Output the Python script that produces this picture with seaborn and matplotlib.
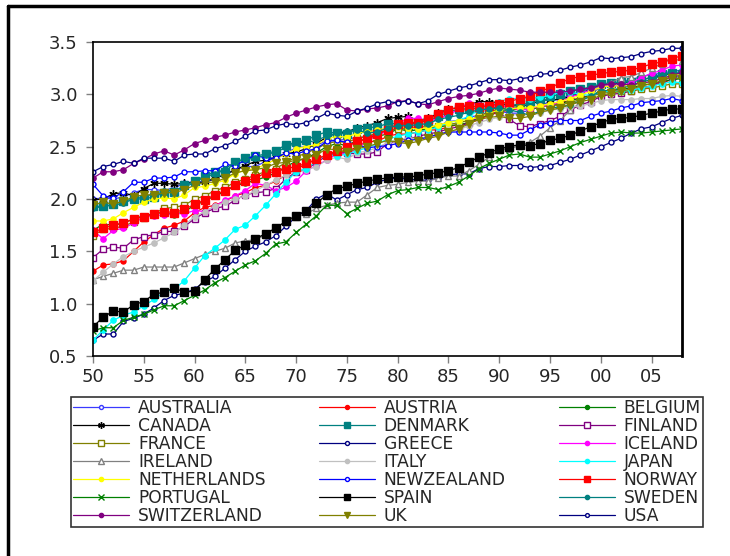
import numpy as np
import pandas as pd
import matplotlib
matplotlib.use("Agg")
import matplotlib.pyplot as plt
import seaborn as sns
from matplotlib.lines import Line2D

# Years covered by every series.
years = list(range(1950, 2009))

# Log GDP per capita values (one list per country).
australia = [2.00, 2.01, 2.00, 2.02, 2.06, 2.09, 2.09, 2.08, 2.11, 2.15,
             2.17, 2.16, 2.19, 2.24, 2.28, 2.31, 2.31, 2.36, 2.39, 2.44,
             2.49, 2.50, 2.51, 2.56, 2.56, 2.57, 2.59, 2.59, 2.62, 2.65,
             2.67, 2.69, 2.66, 2.66, 2.70, 2.74, 2.75, 2.78, 2.80, 2.83,
             2.84, 2.82, 2.82, 2.85, 2.89, 2.93, 2.96, 2.99, 3.03, 3.06,
             3.08, 3.09, 3.12, 3.14, 3.17, 3.19, 3.20, 3.22, 3.23]
austria = [1.31, 1.37, 1.38, 1.41, 1.50, 1.59, 1.66, 1.72, 1.75, 1.79,
           1.87, 1.92, 1.94, 1.98, 2.03, 2.06, 2.11, 2.13, 2.17, 2.23,
           2.29, 2.33, 2.38, 2.42, 2.45, 2.45, 2.50, 2.55, 2.55, 2.60,
           2.62, 2.62, 2.64, 2.66, 2.66, 2.69, 2.71, 2.72, 2.76, 2.80,
           2.83, 2.85, 2.86, 2.86, 2.88, 2.90, 2.92, 2.94, 2.97, 2.99,
           3.02, 3.03, 3.04, 3.04, 3.06, 3.08, 3.11, 3.14, 3.16]
belgium = [1.70, 1.76, 1.75, 1.77, 1.81, 1.84, 1.86, 1.87, 1.85, 1.88,
           1.94, 1.98, 2.03, 2.07, 2.13, 2.15, 2.18, 2.21, 2.25, 2.31,
           2.36, 2.39, 2.44, 2.50, 2.53, 2.51, 2.56, 2.57, 2.60, 2.62,
           2.67, 2.65, 2.66, 2.67, 2.69, 2.70, 2.71, 2.73, 2.77, 2.81,
           2.84, 2.86, 2.87, 2.85, 2.88, 2.90, 2.91, 2.94, 2.96, 2.99,
           3.03, 3.04, 3.05, 3.06, 3.09, 3.10, 3.12, 3.14, 3.15]
canada = [1.99, 2.00, 2.05, 2.06, 2.03, 2.10, 2.15, 2.15, 2.14, 2.15,
          2.16, 2.16, 2.20, 2.23, 2.28, 2.32, 2.36, 2.37, 2.40, 2.43,
          2.45, 2.48, 2.53, 2.59, 2.63, 2.64, 2.68, 2.70, 2.73, 2.77,
          2.78, 2.79, 2.75, 2.77, 2.82, 2.86, 2.87, 2.90, 2.93, 2.93,
          2.92, 2.89, 2.89, 2.90, 2.94, 2.95, 2.95, 2.98, 3.01, 3.05,
          3.09, 3.10, 3.11, 3.12, 3.14, 3.16, 3.18, 3.20, 3.20]
denmark = [1.93, 1.93, 1.95, 1.98, 2.00, 2.00, 2.02, 2.06, 2.07, 2.13,
           2.17, 2.22, 2.26, 2.26, 2.35, 2.39, 2.41, 2.43, 2.46, 2.52,
           2.54, 2.56, 2.61, 2.64, 2.63, 2.62, 2.67, 2.68, 2.69, 2.72,
           2.72, 2.71, 2.73, 2.75, 2.79, 2.83, 2.86, 2.86, 2.87, 2.87,
           2.88, 2.89, 2.91, 2.91, 2.96, 2.98, 3.00, 3.03, 3.05, 3.07,
           3.10, 3.11, 3.12, 3.12, 3.14, 3.16, 3.19, 3.20, 3.19]
finland = [1.44, 1.52, 1.54, 1.53, 1.61, 1.64, 1.66, 1.69, 1.69, 1.74,
           1.81, 1.87, 1.91, 1.93, 1.99, 2.04, 2.06, 2.07, 2.10, 2.19,
           2.26, 2.28, 2.35, 2.41, 2.44, 2.44, 2.43, 2.43, 2.45, 2.53,
           2.56, 2.57, 2.60, 2.62, 2.64, 2.67, 2.69, 2.73, 2.78, 2.83,
           2.82, 2.76, 2.70, 2.69, 2.72, 2.75, 2.79, 2.85, 2.90, 2.93,
           2.98, 3.00, 3.01, 3.03, 3.06, 3.08, 3.13, 3.17, 3.18]
france = [1.65, 1.71, 1.72, 1.74, 1.78, 1.82, 1.86, 1.91, 1.92, 1.94,
          2.00, 2.03, 2.08, 2.11, 2.16, 2.19, 2.23, 2.26, 2.29, 2.35,
          2.40, 2.44, 2.48, 2.53, 2.55, 2.54, 2.58, 2.60, 2.63, 2.66,
          2.67, 2.67, 2.69, 2.69, 2.70, 2.71, 2.73, 2.75, 2.79, 2.83,
          2.86, 2.87, 2.87, 2.86, 2.88, 2.89, 2.90, 2.92, 2.95, 2.98,
          3.01, 3.02, 3.03, 3.03, 3.05, 3.06, 3.08, 3.10, 3.10]
greece = [0.65, 0.71, 0.71, 0.83, 0.86, 0.90, 0.96, 1.03, 1.08, 1.10,
          1.14, 1.21, 1.26, 1.34, 1.42, 1.50, 1.55, 1.59, 1.65, 1.74,
          1.83, 1.89, 2.00, 2.05, 1.99, 2.04, 2.09, 2.11, 2.16, 2.19,
          2.20, 2.19, 2.18, 2.18, 2.20, 2.23, 2.24, 2.24, 2.29, 2.31,
          2.31, 2.32, 2.32, 2.30, 2.31, 2.32, 2.35, 2.38, 2.42, 2.46,
          2.50, 2.54, 2.58, 2.63, 2.67, 2.69, 2.73, 2.77, 2.80]
iceland = [1.70, 1.62, 1.70, 1.72, 1.77, 1.83, 1.84, 1.85, 1.86, 1.86,
           1.89, 1.88, 1.93, 1.99, 2.03, 2.08, 2.15, 2.13, 2.08, 2.11,
           2.17, 2.27, 2.32, 2.37, 2.43, 2.43, 2.48, 2.56, 2.61, 2.65,
           2.72, 2.77, 2.77, 2.74, 2.77, 2.80, 2.86, 2.92, 2.90, 2.89,
           2.89, 2.88, 2.85, 2.86, 2.89, 2.89, 2.93, 2.97, 3.01, 3.04,
           3.07, 3.09, 3.08, 3.11, 3.16, 3.20, 3.23, 3.27, 3.28]
ireland = [1.23, 1.26, 1.29, 1.32, 1.32, 1.35, 1.35, 1.35, 1.35, 1.39,
           1.43, 1.47, 1.50, 1.53, 1.58, 1.60, 1.61, 1.66, 1.73, 1.78,
           1.83, 1.86, 1.91, 1.94, 1.96, 1.97, 1.97, 2.04, 2.11, 2.13,
           2.14, 2.16, 2.17, 2.17, 2.20, 2.22, 2.22, 2.27, 2.33, 2.40,
           2.47, 2.48, 2.51, 2.54, 2.60, 2.68, 2.75, 2.85, 2.92, 3.00,
           3.07, 3.11, 3.16, 3.17, 3.21, 3.25, 3.29, 3.34, 3.32]
italy = [1.22, 1.30, 1.38, 1.45, 1.50, 1.54, 1.58, 1.63, 1.68, 1.75,
         1.83, 1.88, 1.93, 1.97, 2.00, 2.03, 2.08, 2.13, 2.18, 2.23,
         2.27, 2.28, 2.31, 2.37, 2.40, 2.38, 2.44, 2.46, 2.49, 2.54,
         2.57, 2.58, 2.58, 2.59, 2.62, 2.64, 2.66, 2.70, 2.73, 2.76,
         2.78, 2.80, 2.81, 2.80, 2.82, 2.85, 2.86, 2.88, 2.89, 2.91,
         2.94, 2.95, 2.95, 2.95, 2.96, 2.96, 2.98, 2.99, 2.98]
japan = [0.65, 0.75, 0.84, 0.89, 0.92, 0.98, 1.04, 1.11, 1.14, 1.22,
         1.34, 1.46, 1.53, 1.61, 1.71, 1.75, 1.84, 1.94, 2.05, 2.16,
         2.26, 2.29, 2.36, 2.43, 2.41, 2.43, 2.46, 2.49, 2.53, 2.57,
         2.60, 2.62, 2.64, 2.66, 2.69, 2.73, 2.75, 2.79, 2.85, 2.89,
         2.93, 2.96, 2.96, 2.96, 2.97, 2.99, 3.02, 3.02, 3.00, 2.99,
         3.02, 3.03, 3.03, 3.04, 3.06, 3.08, 3.10, 3.12, 3.11]
netherlands = [1.79, 1.79, 1.81, 1.87, 1.92, 1.97, 2.00, 2.01, 2.00, 2.04,
               2.11, 2.12, 2.15, 2.18, 2.24, 2.28, 2.29, 2.33, 2.38, 2.43,
               2.48, 2.50, 2.52, 2.57, 2.60, 2.59, 2.63, 2.64, 2.66, 2.68,
               2.69, 2.68, 2.67, 2.68, 2.71, 2.73, 2.75, 2.76, 2.78, 2.82,
               2.85, 2.86, 2.87, 2.87, 2.89, 2.91, 2.93, 2.96, 2.99, 3.03,
               3.07, 3.08, 3.08, 3.08, 3.10, 3.12, 3.15, 3.18, 3.20]
newzealand = [2.14, 2.03, 2.01, 2.07, 2.16, 2.16, 2.20, 2.20, 2.21, 2.26,
              2.26, 2.27, 2.27, 2.33, 2.32, 2.37, 2.42, 2.39, 2.39, 2.44,
              2.43, 2.46, 2.48, 2.55, 2.56, 2.54, 2.52, 2.49, 2.50, 2.51,
              2.53, 2.56, 2.57, 2.59, 2.62, 2.64, 2.64, 2.64, 2.64, 2.64,
              2.63, 2.61, 2.61, 2.66, 2.71, 2.73, 2.75, 2.75, 2.75, 2.79,
              2.82, 2.84, 2.87, 2.89, 2.92, 2.93, 2.94, 2.96, 2.94]
norway = [1.68, 1.72, 1.75, 1.77, 1.81, 1.83, 1.86, 1.88, 1.87, 1.90,
          1.95, 1.99, 2.04, 2.08, 2.13, 2.17, 2.20, 2.25, 2.26, 2.29,
          2.31, 2.34, 2.38, 2.42, 2.46, 2.50, 2.55, 2.57, 2.62, 2.66,
          2.72, 2.73, 2.73, 2.76, 2.81, 2.85, 2.88, 2.89, 2.88, 2.89,
          2.91, 2.93, 2.96, 2.98, 3.03, 3.06, 3.11, 3.15, 3.17, 3.18,
          3.20, 3.21, 3.22, 3.23, 3.26, 3.29, 3.31, 3.34, 3.37]
portugal = [0.74, 0.77, 0.77, 0.84, 0.87, 0.90, 0.94, 0.98, 0.98, 1.03,
            1.08, 1.13, 1.20, 1.25, 1.31, 1.37, 1.41, 1.48, 1.57, 1.59,
            1.68, 1.76, 1.84, 1.94, 1.94, 1.86, 1.91, 1.96, 1.98, 2.04,
            2.08, 2.09, 2.11, 2.11, 2.09, 2.12, 2.16, 2.22, 2.29, 2.34,
            2.38, 2.42, 2.43, 2.40, 2.40, 2.43, 2.46, 2.50, 2.54, 2.57,
            2.60, 2.63, 2.64, 2.63, 2.63, 2.64, 2.65, 2.66, 2.67]
spain = [0.78, 0.87, 0.93, 0.92, 0.99, 1.02, 1.09, 1.11, 1.15, 1.11,
         1.12, 1.23, 1.33, 1.42, 1.51, 1.56, 1.62, 1.67, 1.72, 1.79,
         1.84, 1.89, 1.96, 2.04, 2.10, 2.12, 2.15, 2.17, 2.19, 2.20,
         2.21, 2.21, 2.22, 2.24, 2.25, 2.27, 2.30, 2.35, 2.40, 2.44,
         2.48, 2.50, 2.52, 2.51, 2.53, 2.56, 2.58, 2.61, 2.65, 2.69,
         2.73, 2.76, 2.77, 2.78, 2.80, 2.82, 2.84, 2.86, 2.86]
sweden = [1.91, 1.93, 1.94, 1.96, 2.00, 2.02, 2.05, 2.08, 2.08, 2.11,
          2.16, 2.21, 2.24, 2.29, 2.35, 2.38, 2.39, 2.42, 2.45, 2.49,
          2.54, 2.54, 2.56, 2.60, 2.63, 2.65, 2.66, 2.63, 2.64, 2.68,
          2.70, 2.70, 2.71, 2.72, 2.76, 2.78, 2.80, 2.83, 2.85, 2.86,
          2.87, 2.85, 2.83, 2.80, 2.84, 2.87, 2.88, 2.90, 2.94, 2.98,
          3.03, 3.04, 3.06, 3.08, 3.12, 3.14, 3.18, 3.21, 3.20]
switzerland = [2.20, 2.26, 2.26, 2.28, 2.34, 2.38, 2.43, 2.46, 2.42, 2.47,
               2.53, 2.56, 2.59, 2.61, 2.64, 2.66, 2.68, 2.71, 2.73, 2.78,
               2.82, 2.85, 2.88, 2.90, 2.91, 2.85, 2.84, 2.86, 2.87, 2.89,
               2.93, 2.94, 2.91, 2.90, 2.93, 2.96, 2.98, 2.99, 3.01, 3.04,
               3.06, 3.05, 3.04, 3.02, 3.02, 3.02, 3.02, 3.03, 3.05, 3.06,
               3.09, 3.10, 3.10, 3.09, 3.11, 3.12, 3.15, 3.18, 3.21]
uk = [1.94, 1.97, 1.95, 1.98, 2.02, 2.04, 2.04, 2.06, 2.06, 2.09,
      2.13, 2.16, 2.16, 2.20, 2.25, 2.27, 2.28, 2.30, 2.34, 2.35,
      2.37, 2.39, 2.42, 2.48, 2.47, 2.45, 2.48, 2.50, 2.53, 2.56,
      2.54, 2.53, 2.55, 2.58, 2.60, 2.64, 2.67, 2.72, 2.76, 2.78,
      2.79, 2.77, 2.77, 2.79, 2.83, 2.85, 2.87, 2.90, 2.93, 2.95,
      2.99, 3.01, 3.03, 3.05, 3.08, 3.10, 3.13, 3.16, 3.15]
usa = [2.26, 2.31, 2.33, 2.36, 2.34, 2.39, 2.39, 2.39, 2.36, 2.42,
       2.43, 2.43, 2.48, 2.51, 2.55, 2.60, 2.65, 2.66, 2.70, 2.72,
       2.71, 2.73, 2.77, 2.82, 2.80, 2.79, 2.84, 2.87, 2.91, 2.93,
       2.92, 2.94, 2.91, 2.94, 3.00, 3.03, 3.06, 3.08, 3.11, 3.14,
       3.14, 3.13, 3.15, 3.16, 3.19, 3.20, 3.23, 3.26, 3.28, 3.31,
       3.35, 3.34, 3.35, 3.36, 3.39, 3.41, 3.42, 3.44, 3.44]

# Series names in legend order.
countries = ["AUSTRALIA", "AUSTRIA", "BELGIUM", "CANADA", "DENMARK", "FINLAND",
             "FRANCE", "GREECE", "ICELAND", "IRELAND", "ITALY", "JAPAN",
             "NETHERLANDS", "NEWZEALAND", "NORWAY", "PORTUGAL", "SPAIN",
             "SWEDEN", "SWITZERLAND", "UK", "USA"]
series = [australia, austria, belgium, canada, denmark, finland, france, greece,
          iceland, ireland, italy, japan, netherlands, newzealand, norway,
          portugal, spain, sweden, switzerland, uk, usa]

# Axis ticks.
y_ticks = [0.5, 1.0, 1.5, 2.0, 2.5, 3.0, 3.5]
x_ticks = [1950, 1955, 1960, 1965, 1970, 1975, 1980, 1985, 1990, 1995, 2000, 2005]
x_tick_labels = ["50", "55", "60", "65", "70", "75", "80", "85", "90", "95", "00", "05"]

# Line colour, marker, marker size and whether the marker is hollow.
STYLES = {
    "AUSTRALIA":   ("#3a3aff", "o", 3.6, True),
    "AUSTRIA":     ("#ff0000", "o", 3.6, False),
    "BELGIUM":     ("#008000", "o", 3.6, False),
    "CANADA":      ("#000000", (6, 2, 0), 6.0, False),
    "DENMARK":     ("#008080", "s", 5.2, False),
    "FINLAND":     ("#800080", "s", 5.0, True),
    "FRANCE":      ("#808000", "s", 5.0, True),
    "GREECE":      ("#000080", "o", 3.6, True),
    "ICELAND":     ("#ff00ff", "o", 3.8, False),
    "IRELAND":     ("#808080", "^", 5.0, True),
    "ITALY":       ("#c0c0c0", "o", 3.8, False),
    "JAPAN":       ("#00ffff", "o", 3.8, False),
    "NETHERLANDS": ("#ffff00", "o", 3.8, False),
    "NEWZEALAND":  ("#0000ff", "o", 3.6, True),
    "NORWAY":      ("#ff0000", "s", 5.4, False),
    "PORTUGAL":    ("#008000", "x", 5.0, False),
    "SPAIN":       ("#000000", "s", 5.2, False),
    "SWEDEN":      ("#008080", "o", 3.8, False),
    "SWITZERLAND": ("#800080", "o", 3.8, False),
    "UK":          ("#808000", "v", 5.4, False),
    "USA":         ("#000080", "o", 3.4, True),
}

sns.set_style("ticks")
plt.rcParams["font.family"] = ["DejaVu Sans"]

fig = plt.figure(figsize=(7.3, 5.56), dpi=100)
ax = fig.add_axes([93 / 730, 1 - 356 / 556, 589 / 730, 314 / 556])

# Draw each country as its own seaborn line.
for name, vals in zip(countries, series):
    color, marker, ms, hollow = STYLES[name]
    sns.lineplot(x=years, y=vals, ax=ax, label=name, color=color, lw=0.9,
                 marker=marker, markersize=ms,
                 markerfacecolor="white" if hollow else color,
                 markeredgecolor=color, markeredgewidth=1.0)

ax.set_xlim(1950, 2008)
ax.set_ylim(0.5, 3.5)
ax.set_xticks(x_ticks)
ax.set_xticklabels(x_tick_labels)
ax.set_yticks(y_ticks)
ax.set_yticklabels([f"{v:.1f}" for v in y_ticks])
ax.set_xlabel("")
ax.set_ylabel("")
ax.tick_params(axis="both", direction="out", length=5, width=1,
               color="#808080", labelsize=13, pad=4)
ax.tick_params(axis="y", pad=6)
for sp in ax.spines.values():
    sp.set_visible(True)
    sp.set_color("black")
    sp.set_linewidth(1.2)
ax.spines["right"].set_linewidth(2.0)

# Reorder handles so the legend reads row by row in three columns.
handles, labels = ax.get_legend_handles_labels()
ax.get_legend().remove()
order = [i for c in range(3) for i in range(c, len(handles), 3)]
leg = fig.legend([handles[i] for i in order], [labels[i] for i in order],
                 ncol=3, loc="lower left", mode="expand",
                 bbox_to_anchor=(71 / 730, 1 - 527 / 556, 632 / 730, 127 / 556),
                 frameon=True, fancybox=False, shadow=False,
                 fontsize=12.3, handlelength=3.3, handletextpad=0.5,
                 labelspacing=0.0, borderpad=0.12, borderaxespad=0.0,
                 columnspacing=1.0, markerscale=0.8)
leg.get_frame().set_edgecolor("black")
leg.get_frame().set_linewidth(1.2)

# Outer frame: only top and left edges fall inside the picture.
fig.add_artist(Line2D([8 / 730, 8 / 730], [0, 1 - 6 / 556], color="black", lw=2.5,
                      transform=fig.transFigure))
fig.add_artist(Line2D([8 / 730, 1], [1 - 6 / 556, 1 - 6 / 556], color="black", lw=2.5,
                      transform=fig.transFigure))

fig.savefig("out.png", dpi=100)
